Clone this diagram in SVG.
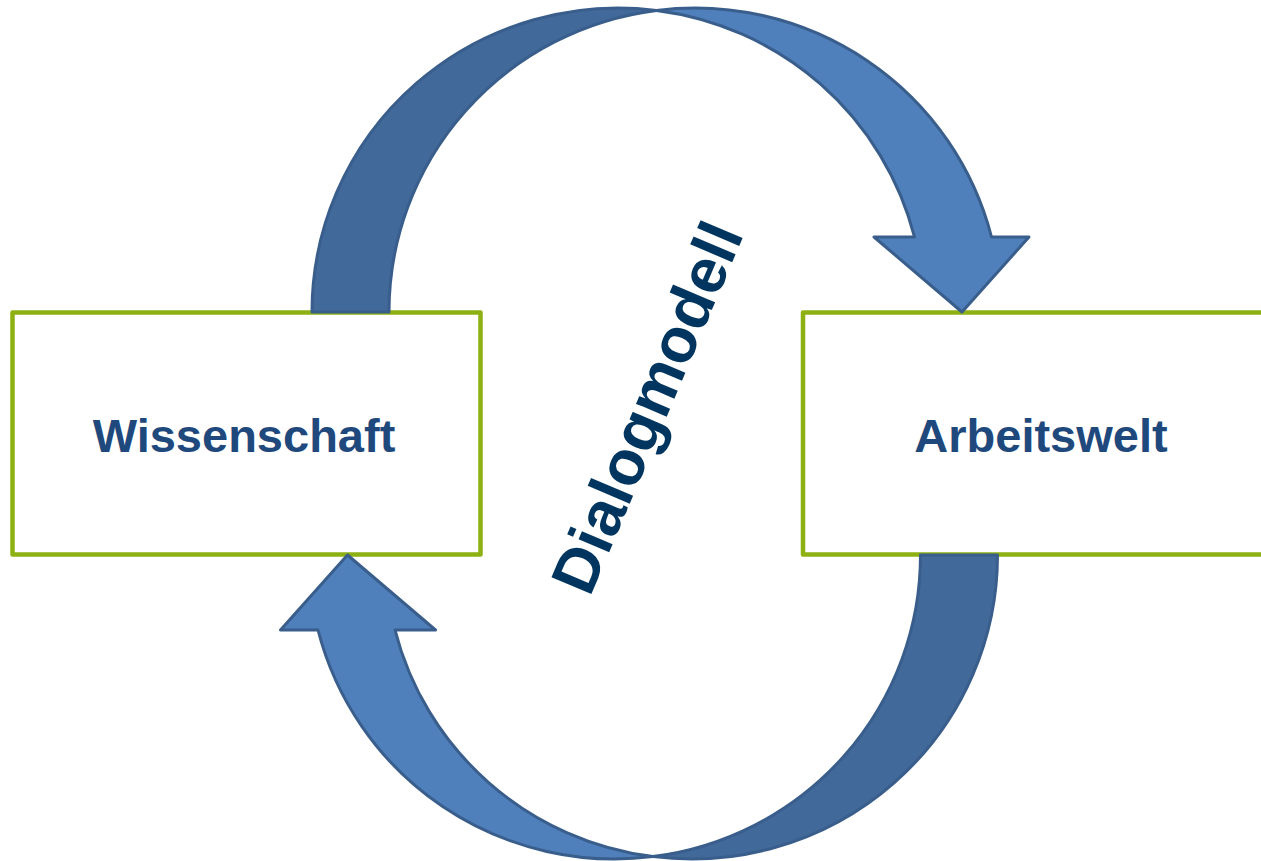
<svg xmlns="http://www.w3.org/2000/svg" width="1261" height="861" viewBox="0 0 1261 861">
  <style>
    .box { fill: #ffffff; stroke: #8DB012; stroke-width: 4.5; stroke-linejoin: round; }
    .lbl { font-family: "Liberation Sans", Arial, sans-serif; font-weight: bold; font-size: 47px; fill: #1F497D; text-anchor: middle; }
    .title { font-family: "Liberation Sans", Arial, sans-serif; font-weight: bold; font-size: 63px; fill: #00355F; text-anchor: middle; }
    .back { fill: #41699A; stroke: #3A5E8C; stroke-width: 3; stroke-linejoin: round; }
    .front { fill: #4F80BC; stroke: #3A5E8C; stroke-width: 3; stroke-linejoin: round; }
  </style>
  <defs>
    <g id="curvedArrow">
      <path class="back" d="M 312 312 A 306 304 0 0 1 656.5 10.42 A 306 304 0 0 0 389 312 Z"/>
      <path class="front" d="M 656.5 10.42 A 306 304 0 0 1 991.5 237 L 1029 237 L 962 312 L 874 237 L 914.5 237 A 306 304 0 0 0 656.5 10.42 Z"/>
    </g>
  </defs>
  <rect width="1261" height="861" fill="#ffffff"/>
  <g id="node-wissenschaft">
    <rect class="box" x="12.5" y="312.5" width="468" height="242"/>
    <text class="lbl" x="244" y="452">Wissenschaft</text>
  </g>
  <g id="node-arbeitswelt">
    <rect class="box" x="803" y="312.5" width="470" height="242"/>
    <text class="lbl" x="1041" y="452">Arbeitswelt</text>
  </g>
  <g id="connectors">
    <use href="#curvedArrow"/>
    <use href="#curvedArrow" transform="rotate(180 654.75 433.5)"/>
  </g>
  <g id="label-dialogmodell">
    <text class="title" transform="translate(667 416) rotate(-67)" x="0" y="0">Dialogmodell</text>
  </g>
</svg>
